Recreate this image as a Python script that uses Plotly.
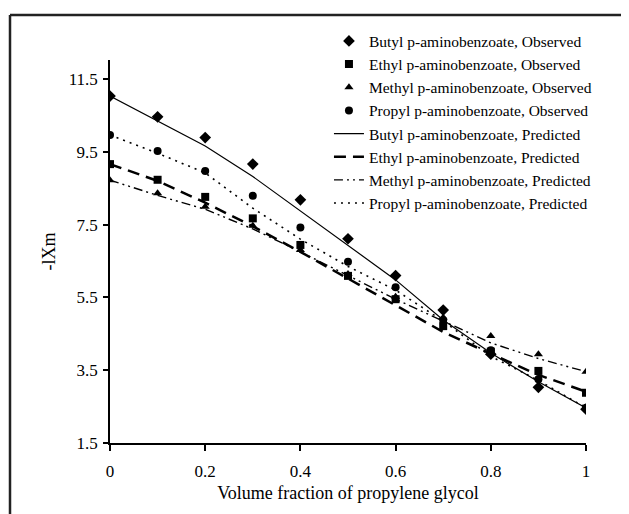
import plotly.graph_objects as go

x_vals = [0, 0.1, 0.2, 0.3, 0.4, 0.5, 0.6, 0.7, 0.8, 0.9, 1.0]

butyl_obs = [11.03, 10.46, 9.89, 9.16, 8.18, 7.11, 6.10, 5.15, 3.94, 3.03, 2.43]
ethyl_obs = [9.16, 8.73, 8.26, 7.67, 6.94, 6.09, 5.45, 4.71, 4.01, 3.48, 2.88]
methyl_obs = [8.72, 8.36, 7.99, 7.47, 6.80, 6.14, 5.52, 4.95, 4.44, 3.94, 3.46]
propyl_obs = [9.96, 9.52, 8.97, 8.29, 7.42, 6.48, 5.78, 4.88, 4.05, 3.25, 2.47]

butyl_pred = [11.03, 10.35, 9.66, 8.82, 7.88, 6.94, 5.98, 4.88, 3.97, 3.18, 2.46]
ethyl_pred = [9.16, 8.70, 8.10, 7.45, 6.75, 6.02, 5.30, 4.55, 3.95, 3.37, 2.91]
methyl_pred = [8.72, 8.30, 7.92, 7.38, 6.75, 6.10, 5.45, 4.85, 4.25, 3.82, 3.46]
propyl_pred = [9.96, 9.46, 8.92, 7.95, 7.10, 6.35, 5.70, 4.85, 3.88, 3.22, 2.47]

x_ticks = [0, 0.2, 0.4, 0.6, 0.8, 1]
x_tick_labels = ["0", "0.2", "0.4", "0.6", "0.8", "1"]
y_ticks = [1.5, 3.5, 5.5, 7.5, 9.5, 11.5]
y_tick_labels = ["1.5", "3.5", "5.5", "7.5", "9.5", "11.5"]

FONT = "Liberation Serif"

fig = go.Figure()

obs = [
    ("Butyl p-aminobenzoate, Observed", butyl_obs, "diamond", 9),
    ("Ethyl p-aminobenzoate, Observed", ethyl_obs, "square", 8),
    ("Methyl p-aminobenzoate, Observed", methyl_obs, "triangle-up", 8),
    ("Propyl p-aminobenzoate, Observed", propyl_obs, "circle", 8),
]
for name, ys, sym, sz in obs:
    fig.add_trace(go.Scatter(x=x_vals, y=ys, mode="markers", name=name,
                             marker=dict(symbol=sym, size=sz, color="black")))

pred = [
    ("Butyl p-aminobenzoate, Predicted", butyl_pred, "solid", 1.2),
    ("Ethyl p-aminobenzoate, Predicted", ethyl_pred, "12px,7px", 2.5),
    ("Methyl p-aminobenzoate, Predicted", methyl_pred, "9px,4px,2px,4px,2px,4px", 1.4),
    ("Propyl p-aminobenzoate, Predicted", propyl_pred, "2px,5px", 1.6),
]
for name, ys, dash, w in pred:
    fig.add_trace(go.Scatter(x=x_vals, y=ys, mode="lines", name=name,
                             line=dict(color="black", dash=dash, width=w)))

# page has an 8px body margin, so the figure is sized/positioned to compensate
W, H = 621, 506
ML, MR, MT, MB = 102, 43, 52, 71
PW, PH = W - ML - MR, H - MT - MB

fig.update_layout(
    width=W, height=H,
    margin=dict(l=ML, r=MR, t=MT, b=MB),
    paper_bgcolor="white", plot_bgcolor="white",
    font=dict(family=FONT, color="black", size=16),
    showlegend=True,
    legend=dict(x=0.460, y=1.093, xanchor="left", yanchor="top",
                font=dict(family=FONT, size=15.5, color="black"),
                bgcolor="rgba(0,0,0,0)", tracegroupgap=0, itemwidth=30),
    xaxis=dict(range=[0, 1], tickvals=x_ticks, ticktext=x_tick_labels,
               showgrid=False, zeroline=False, showline=True, linecolor="black",
               linewidth=1.5, ticks="outside", ticklen=6, tickwidth=1.5,
               tickcolor="black", tickfont=dict(size=17), ticklabelstandoff=6,
               title=dict(text="Volume fraction of propylene glycol",
                          font=dict(size=18), standoff=6)),
    yaxis=dict(range=[1.5, 12.02], tickvals=y_ticks, ticktext=y_tick_labels,
               showgrid=False, zeroline=False, showline=True, linecolor="black",
               linewidth=1.5, ticks="outside", ticklen=5, tickwidth=1.5,
               tickcolor="black", tickfont=dict(size=17), ticklabelstandoff=2,
               title=dict(text="-lXm", font=dict(size=18), standoff=8)),
)

# outer frame (left and top edges visible in the crop)
fx = (2 - ML) / PW
fy = (H - MB - 7) / PH
fig.add_shape(type="line", xref="paper", yref="paper",
              x0=fx, x1=1.3, y0=fy, y1=fy,
              line=dict(color="#222", width=2.5))
fig.add_shape(type="line", xref="paper", yref="paper",
              x0=fx, x1=fx, y0=-0.3, y1=fy,
              line=dict(color="#222", width=2.5))

fig.write_html("out.html")
